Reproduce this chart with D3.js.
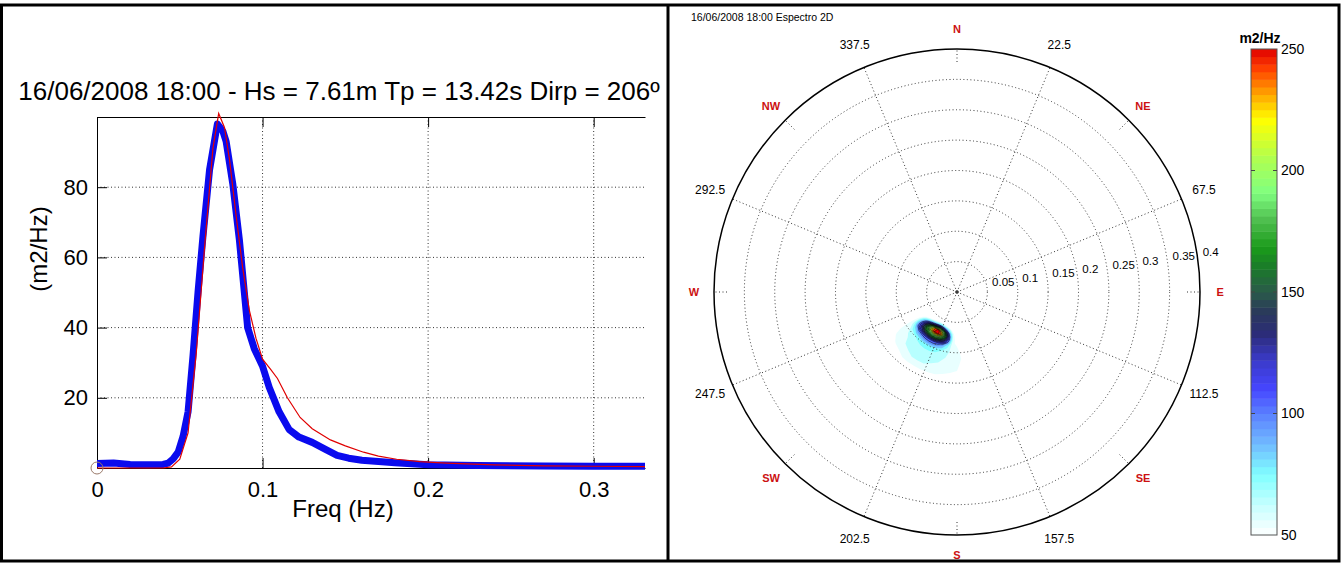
<!DOCTYPE html>
<html>
<head>
<meta charset="utf-8">
<script src="https://cdn.jsdelivr.net/npm/d3@7/dist/d3.min.js"></script>
<title>Espectro 16/06/2008 18:00</title>
<style>
body {
	margin: 0;
	background: white;
}
svg {
	display: block;
	font-family: "Liberation Sans", Arial, sans-serif;
}
.dotted {
	stroke: #333;
	stroke-width: 1;
	stroke-dasharray: 1,2.5;
	fill: none;
}
</style>
</head>
<body>
<svg id="fig" width="1344" height="563"></svg>
<script>

// -- 1D spectrum (left panel)

var measFreq = [0, 0.01, 0.02, 0.03, 0.04, 0.043, 0.046, 0.049, 0.052, 0.055, 0.058, 0.061, 0.064, 0.068, 0.0727,
	0.076, 0.078, 0.082, 0.086, 0.089, 0.091, 0.095, 0.1, 0.104, 0.11, 0.116, 0.122, 0.13, 0.138, 0.145,
	0.152, 0.16, 0.18, 0.2, 0.23, 0.27, 0.3, 0.331];
var measDens = [1.3, 1.4, 1.0, 0.9, 1.0, 1.4, 2.6, 4.5, 9, 16, 32, 50, 66, 85, 98,
	96, 93, 81, 65, 50, 40, 34, 29, 23, 16, 11, 8.8, 7.3, 5.3, 3.6,
	2.8, 2.2, 1.5, 0.9, 0.7, 0.6, 0.5, 0.5];

var fitFreq = [0, 0.04, 0.045, 0.05, 0.055, 0.06, 0.065, 0.07, 0.0735, 0.077, 0.08, 0.084, 0.088, 0.092, 0.096,
	0.1, 0.105, 0.109, 0.115, 0.1227, 0.13, 0.141, 0.15, 0.161, 0.17, 0.181, 0.195, 0.211, 0.24, 0.27, 0.3, 0.331];
var fitDens = [0, 0, 0.3, 2.5, 10, 33, 63, 91, 101, 97, 88, 72, 57, 45, 37,
	31, 28, 25.5, 20, 14.4, 11.2, 8, 6.3, 4.5, 3.4, 2.5, 1.8, 1.4, 0.9, 0.6, 0.5, 0.4];

var freqTicks = [0, 0.1, 0.2, 0.3];
var densTicks = [20, 40, 60, 80];

// -- 2D spectrum (right panel)

var specDirs = [170, 175, 180, 185, 190, 195, 200, 205, 210, 215, 220, 225, 230, 235, 240, 245];
var specFreqs = [0.05, 0.06, 0.065, 0.07, 0.075, 0.08, 0.085, 0.09, 0.1, 0.11, 0.12, 0.13, 0.14, 0.15];
var specValues = [
	[0,  0,  0,  0,   0,   0,   0,   0,   0,   0,   0,   0,   0,  0,  0, 0],
	[0,  0,  5, 20,  40,  55,  70,  80,  75,  65,  55,  40,  25, 10,  0, 0],
	[0,  5, 20, 40,  70, 100, 130, 150, 140, 120, 100,  80,  55, 30, 10, 0],
	[0, 10, 30, 55,  95, 150, 210, 255, 245, 200, 150, 115,  80, 45, 20, 0],
	[0, 15, 35, 60, 110, 170, 235, 255, 250, 220, 175, 135,  95, 55, 25, 0],
	[0, 20, 40, 60, 110, 150, 180, 200, 195, 180, 160, 135, 100, 60, 30, 0],
	[0, 25, 45, 55,  95, 125, 140, 150, 150, 145, 135, 120,  95, 60, 35, 0],
	[0, 35, 50, 55,  75,  95, 105, 110, 110, 108, 102,  95,  80, 58, 40, 0],
	[0, 45, 55, 58,  62,  70,  75,  78,  78,  76,  72,  68,  62, 55, 45, 0],
	[0, 48, 55, 58,  60,  64,  66,  67,  67,  66,  65,  62,  58, 54, 45, 0],
	[0, 45, 53, 56,  58,  60,  62,  63,  63,  63,  62,  60,  56, 52, 40, 0],
	[0, 35, 50, 53,  55,  57,  58,  60,  60,  60,  58,  55,  52, 45, 30, 0],
	[0, 15, 35, 45,  48,  50,  52,  54,  54,  54,  50,  45,  40, 30, 15, 0],
	[0,  0,  0,  0,   0,   0,   0,   0,   0,   0,   0,   0,   0,  0,  0, 0]
];
var contourLevels = [50, 60, 70, 80, 90, 100, 110, 120, 130, 140, 150, 160, 170, 180, 190, 200, 210, 220, 230, 240, 250];

var ringTicks = [0.05, 0.1, 0.15, 0.2, 0.25, 0.3, 0.35, 0.4];
var ringLabels = ["0.05", "0.1", "0.15", "0.2", "0.25", "0.3", "0.35", "0.4"];
var degLabels = ["22.5", "67.5", "112.5", "157.5", "202.5", "247.5", "292.5", "337.5"];
var compassLabels = ["N", "NE", "E", "SE", "S", "SW", "W", "NW"];

var cbTicks = [50, 100, 150, 200, 250];
var cmapValues = [50, 62, 75, 88, 100, 110, 122, 133, 142, 150, 160, 168, 180, 191, 205, 221, 232, 242, 250];
var cmapColors = ["#ffffff", "#c8ffff", "#80ffff", "#70b8ff", "#5a80ff", "#4646ff", "#3a3ac8", "#2c2c78", "#2a3a5a",
	"#2a5a4a", "#1a7a2a", "#1a9a1a", "#50c050", "#80ff80", "#b0ff50", "#ffff00", "#ffa000", "#ff4000", "#e00000"];

var svg = d3.select("#fig");

// -- frame

svg.append("rect")
	.attr("x", 1.5).attr("y", 5)
	.attr("width", 1337.5).attr("height", 556)
	.attr("fill", "none")
	.attr("stroke", "#000")
	.attr("stroke-width", 3);
svg.append("line")
	.attr("x1", 668).attr("x2", 668)
	.attr("y1", 5).attr("y2", 561)
	.attr("stroke", "#000")
	.attr("stroke-width", 3);

// -- left panel

var left = svg.append("g");

var x = d3.scaleLinear().domain([0, 0.331]).range([97, 645]);
var y = d3.scaleLinear().domain([0, 100]).range([468, 117]);

left.append("text")
	.attr("x", 339).attr("y", 100)
	.attr("text-anchor", "middle")
	.attr("font-size", 26)
	.text("16/06/2008 18:00 - Hs = 7.61m Tp = 13.42s Dirp = 206º");

// grid
left.selectAll("line.vgrid")
	.data(freqTicks.slice(1))
	.enter().append("line")
	.attr("class", "vgrid dotted")
	.attr("x1", d => x(d)).attr("x2", d => x(d))
	.attr("y1", y(100)).attr("y2", y(0));
left.selectAll("line.hgrid")
	.data(densTicks)
	.enter().append("line")
	.attr("class", "hgrid dotted")
	.attr("x1", x(0)).attr("x2", x.range()[1])
	.attr("y1", d => y(d)).attr("y2", d => y(d));

// axes
function styleAxis(g) {
	g.attr("font-size", 22).attr("font-family", null);
	g.selectAll("path, line").attr("stroke", "#000");
}
left.append("g")
	.attr("transform", "translate(0," + y(0) + ")")
	.call(d3.axisBottom(x).tickValues(freqTicks).tickSizeInner(-10).tickSizeOuter(0)
		.tickPadding(13).tickFormat(String))
	.call(styleAxis);
left.append("g")
	.attr("transform", "translate(0," + y(100) + ")")
	.call(d3.axisTop(x).tickValues(freqTicks).tickSizeInner(-10).tickSizeOuter(0).tickFormat(""))
	.call(styleAxis);
left.append("g")
	.attr("transform", "translate(" + x(0) + ",0)")
	.call(d3.axisLeft(y).tickValues(densTicks).tickSizeInner(-10).tickSizeOuter(0).tickPadding(9))
	.call(styleAxis);

left.append("text")
	.attr("x", 343).attr("y", 517)
	.attr("text-anchor", "middle")
	.attr("font-size", 24)
	.text("Freq (Hz)");
left.append("text")
	.attr("transform", "translate(47,249) rotate(-90)")
	.attr("text-anchor", "middle")
	.attr("font-size", 24)
	.text("(m2/Hz)");

// series
left.append("clipPath")
	.attr("id", "plotclip")
	.append("rect")
	.attr("x", x(0)).attr("y", 100)
	.attr("width", x.range()[1] - x(0)).attr("height", 380);

var line = d3.line().x(d => x(d[0])).y(d => y(d[1]));

left.append("path")
	.datum(d3.zip(measFreq, measDens))
	.attr("clip-path", "url(#plotclip)")
	.attr("fill", "none")
	.attr("stroke", "#0a0aee")
	.attr("stroke-width", 7)
	.attr("stroke-linejoin", "round")
	.attr("d", line);

left.append("path")
	.datum(d3.zip(fitFreq, fitDens))
	.attr("clip-path", "url(#plotclip)")
	.attr("fill", "none")
	.attr("stroke", "#e00000")
	.attr("stroke-width", 1.2)
	.attr("d", line);

left.append("circle")
	.attr("cx", x(0)).attr("cy", y(0))
	.attr("r", 6)
	.attr("fill", "none")
	.attr("stroke", "#9a7a6a");

// -- right panel

var right = svg.append("g");

right.append("text")
	.attr("x", 691).attr("y", 21)
	.attr("font-size", 10.5)
	.text("16/06/2008 18:00 Espectro 2D");

var cx = 957, cy = 292, R = 243;
var rad = d3.scaleLinear().domain([0, 0.4]).range([0, R]);

function polar(deg, f) {
	var a = deg * Math.PI / 180;
	return [cx + rad(f) * Math.sin(a), cy - rad(f) * Math.cos(a)];
}

var cmap = d3.scaleLinear().domain(cmapValues).range(cmapColors).clamp(true);

// filled contours of the directional spectrum, grid -> polar
var nx = specDirs.length, ny = specFreqs.length;
var dirAt = d3.scaleLinear().domain(d3.range(nx)).range(specDirs).clamp(true);
var freqAt = d3.scaleLinear().domain(d3.range(ny)).range(specFreqs).clamp(true);
var toPolar = d3.geoTransform({
	point: function(px, py) {
		var p = polar(dirAt(px - 0.5), freqAt(py - 0.5));
		this.stream.point(p[0], p[1]);
	}
});
var contourPath = d3.geoPath(toPolar);
var bands = d3.contours().size([nx, ny]).thresholds(contourLevels)(specValues.flat());

right.selectAll("path.band")
	.data(bands)
	.enter().append("path")
	.attr("class", "band")
	.attr("d", contourPath)
	.attr("fill", d => cmap(d.value + 5))
	.attr("stroke", d => d.value >= 100 ? "#000" : "none")
	.attr("stroke-width", 0.5);

// rings and spokes
right.selectAll("circle.ring")
	.data(ringTicks.slice(0, -1))
	.enter().append("circle")
	.attr("class", "ring dotted")
	.attr("cx", cx).attr("cy", cy)
	.attr("r", d => rad(d));

right.selectAll("line.spoke")
	.data(degLabels)
	.enter().append("line")
	.attr("class", "spoke dotted")
	.attr("x1", cx).attr("y1", cy)
	.attr("x2", d => polar(+d, 0.4)[0])
	.attr("y2", d => polar(+d, 0.4)[1]);

right.selectAll("line.ctick")
	.data(compassLabels)
	.enter().append("line")
	.attr("class", "ctick dotted")
	.attr("x1", (d, i) => polar(i * 45, rad.invert(R - 13))[0])
	.attr("y1", (d, i) => polar(i * 45, rad.invert(R - 13))[1])
	.attr("x2", (d, i) => polar(i * 45, 0.4)[0])
	.attr("y2", (d, i) => polar(i * 45, 0.4)[1]);

right.append("circle")
	.attr("cx", cx).attr("cy", cy)
	.attr("r", rad(0.4))
	.attr("fill", "none")
	.attr("stroke", "#000")
	.attr("stroke-width", 1.5);

right.append("circle")
	.attr("cx", cx).attr("cy", cy)
	.attr("r", 1.5)
	.attr("fill", "none")
	.attr("stroke", "#333")
	.attr("stroke-width", 0.8);

// labels
right.selectAll("text.rlab")
	.data(ringTicks)
	.enter().append("text")
	.attr("x", d => polar(82, d)[0])
	.attr("y", d => polar(82, d)[1])
	.attr("dx", 5)
	.attr("dy", -2)
	.attr("font-size", 11.5)
	.text((d, i) => ringLabels[i]);

right.selectAll("text.deg")
	.data(degLabels)
	.enter().append("text")
	.attr("x", d => polar(+d, 0.44)[0])
	.attr("y", d => polar(+d, 0.44)[1])
	.attr("dy", "0.35em")
	.attr("text-anchor", "middle")
	.attr("font-size", 12)
	.text(d => d);

right.selectAll("text.compass")
	.data(compassLabels)
	.enter().append("text")
	.attr("x", (d, i) => polar(i * 45, 0.433)[0])
	.attr("y", (d, i) => polar(i * 45, 0.433)[1])
	.attr("dy", "0.35em")
	.attr("text-anchor", "middle")
	.attr("font-size", 11)
	.attr("font-weight", "bold")
	.attr("fill", "#cc1111")
	.text(d => d);

// colorbar
var cb = d3.scaleLinear().domain([50, 250]).range([535, 49]);
var nBands = 64, step = 200 / nBands;

right.selectAll("rect.cb")
	.data(d3.range(nBands))
	.enter().append("rect")
	.attr("x", 1251).attr("width", 26)
	.attr("y", i => cb(50 + (i + 1) * step))
	.attr("height", cb(50) - cb(50 + step) + 0.5)
	.attr("fill", i => cmap(50 + (i + 0.5) * step));

right.append("rect")
	.attr("x", 1251).attr("y", cb(250))
	.attr("width", 26).attr("height", cb(50) - cb(250))
	.attr("fill", "none")
	.attr("stroke", "#555");

var inner = cbTicks.slice(1, -1);
right.selectAll("line.cbl")
	.data(inner)
	.enter().append("line")
	.attr("x1", 1251).attr("x2", 1255)
	.attr("y1", d => cb(d)).attr("y2", d => cb(d))
	.attr("stroke", "#444");
right.selectAll("line.cbr")
	.data(inner)
	.enter().append("line")
	.attr("x1", 1273).attr("x2", 1277)
	.attr("y1", d => cb(d)).attr("y2", d => cb(d))
	.attr("stroke", "#444");

right.selectAll("text.cbt")
	.data(cbTicks)
	.enter().append("text")
	.attr("x", 1281)
	.attr("y", d => cb(d))
	.attr("dy", "0.35em")
	.attr("font-size", 14)
	.text(d => d);

right.append("text")
	.attr("x", 1260).attr("y", 43)
	.attr("text-anchor", "middle")
	.attr("font-size", 14)
	.attr("font-weight", "bold")
	.text("m2/Hz");

</script>
</body>
</html>
